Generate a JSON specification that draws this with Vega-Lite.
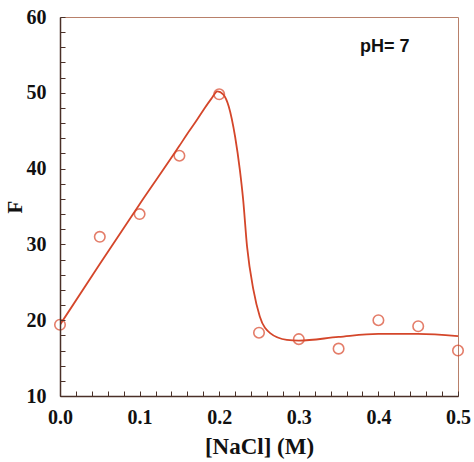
{
  "$schema": "https://vega.github.io/schema/vega-lite/v6.json",
  "autosize": "none",
  "width": 398,
  "height": 379,
  "padding": {"left": 60, "top": 17, "right": 16, "bottom": 66},
  "background": "white",
  "config": {
    "view": {"stroke": "#b8806a", "strokeWidth": 1},
    "axis": {"grid": false, "labelFont": "Liberation Serif", "titleFont": "Liberation Serif", "labelFontWeight": "bold", "titleFontWeight": "bold", "labelColor": "#111", "titleColor": "#111", "labelFontSize": 20, "titleFontSize": 23, "domainColor": "#4a3028", "tickColor": "#4a3028"}
  },
  "datasets": {
    "pts": [
      {"x": 0.0, "y": 19.4},
      {"x": 0.05, "y": 31.0},
      {"x": 0.1, "y": 34.0},
      {"x": 0.15, "y": 41.7},
      {"x": 0.2, "y": 49.8},
      {"x": 0.25, "y": 18.35},
      {"x": 0.3, "y": 17.5},
      {"x": 0.35, "y": 16.25},
      {"x": 0.4, "y": 20.0},
      {"x": 0.45, "y": 19.2},
      {"x": 0.5, "y": 16.0}
    ],
    "fit": [
      {"x": 0.0, "y": 19.4},
      {"x": 0.05, "y": 27.4},
      {"x": 0.1, "y": 35.3},
      {"x": 0.15, "y": 43.0},
      {"x": 0.16, "y": 44.6},
      {"x": 0.17, "y": 46.1},
      {"x": 0.18, "y": 47.7},
      {"x": 0.19, "y": 49.2},
      {"x": 0.198, "y": 50.2},
      {"x": 0.205, "y": 49.8},
      {"x": 0.212, "y": 48.2},
      {"x": 0.22, "y": 44.2},
      {"x": 0.226, "y": 39.8},
      {"x": 0.23, "y": 36.0},
      {"x": 0.235, "y": 29.7},
      {"x": 0.243, "y": 24.0},
      {"x": 0.251, "y": 20.5},
      {"x": 0.264, "y": 18.3},
      {"x": 0.285, "y": 17.4},
      {"x": 0.3, "y": 17.3},
      {"x": 0.35, "y": 17.8},
      {"x": 0.4, "y": 18.2},
      {"x": 0.45, "y": 18.2},
      {"x": 0.5, "y": 17.9}
    ],
    "note": [{"x": 0.408, "y": 56.0, "label": "pH= 7"}]
  },
  "layer": [
    {
      "data": {"name": "fit"},
      "mark": {"type": "line", "color": "#d4462a", "strokeWidth": 1.8, "interpolate": "monotone", "clip": true},
      "encoding": {
        "x": {"field": "x", "type": "quantitative", "scale": {"domain": [0, 0.5], "nice": false, "zero": false},
          "axis": {"orient": "bottom", "title": "[NaCl] (M)", "values": [0, 0.02, 0.04, 0.06, 0.08, 0.1, 0.12, 0.14, 0.16, 0.18, 0.2, 0.22, 0.24, 0.26, 0.28, 0.3, 0.32, 0.34, 0.36, 0.38, 0.4, 0.42, 0.44, 0.46, 0.48, 0.5], "tickCount": 60, "labelExpr": "abs(datum.value*10 - round(datum.value*10)) < 0.001 ? format(datum.value, '.1f') : ''", "labelOverlap": false, "ticks": true, "tickSize": -5, "tickWidth": 1, "zindex": 1, "labelPadding": 16, "titlePadding": 8, "labelFlush": false, "domainWidth": 1.5}},
        "y": {"field": "y", "type": "quantitative", "scale": {"domain": [10, 60], "nice": false, "zero": false},
          "axis": {"orient": "left", "title": "F", "titleFontSize": 21, "values": [10, 12, 14, 16, 18, 20, 22, 24, 26, 28, 30, 32, 34, 36, 38, 40, 42, 44, 46, 48, 50, 52, 54, 56, 58, 60], "tickCount": 60, "labelExpr": "datum.value % 10 == 0 ? datum.value : ''", "labelOverlap": false, "ticks": true, "tickSize": -5, "tickWidth": 1, "zindex": 1, "labelPadding": 19, "titlePadding": 1, "labelFlush": false, "domainWidth": 1.5}}
      }
    },
    {
      "data": {"name": "pts"},
      "mark": {"type": "point", "shape": "circle", "filled": false, "color": "#d9472b", "size": 110, "strokeWidth": 1.6},
      "encoding": {
        "x": {"field": "x", "type": "quantitative"},
        "y": {"field": "y", "type": "quantitative"}
      }
    },
    {
      "data": {"name": "note"},
      "mark": {"type": "text", "font": "Liberation Sans", "fontWeight": "bold", "fontSize": 18, "color": "#111", "align": "center", "baseline": "middle"},
      "encoding": {
        "x": {"field": "x", "type": "quantitative"},
        "y": {"field": "y", "type": "quantitative"},
        "text": {"field": "label"}
      }
    }
  ]
}
